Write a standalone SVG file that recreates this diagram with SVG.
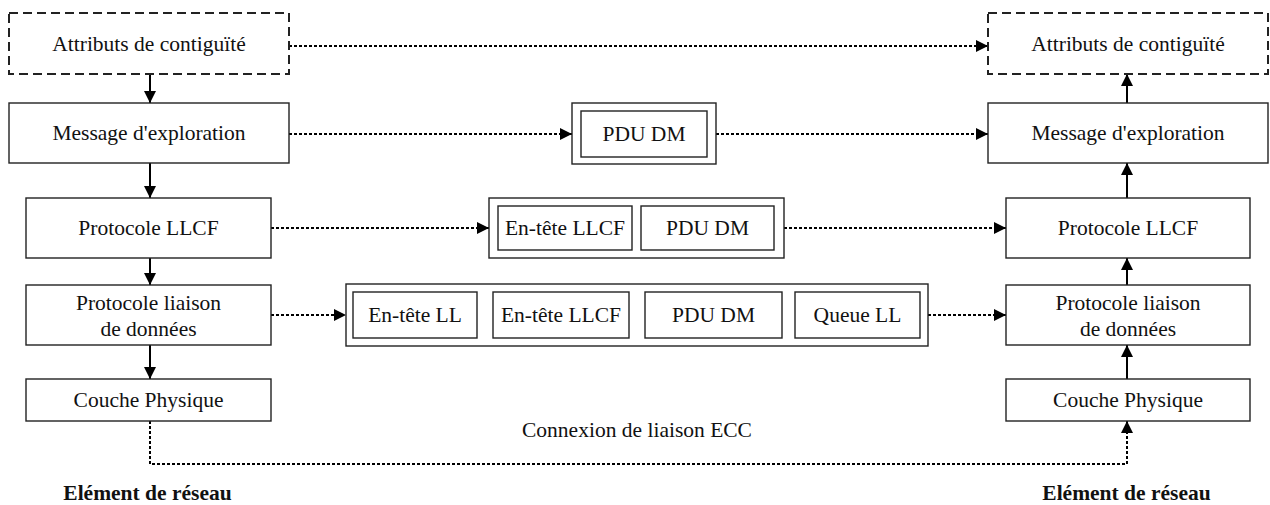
<svg xmlns="http://www.w3.org/2000/svg" width="1270" height="505" viewBox="0 0 1270 505">
<style>
.box{fill:#fff;stroke:#222;stroke-width:1.4}
.dash{fill:#fff;stroke:#222;stroke-width:2;stroke-dasharray:9 5}
.t{font-family:'Liberation Serif','DejaVu Serif',serif;font-size:21.5px;fill:#111;text-anchor:middle}
.b{font-weight:bold}
.solid{stroke:#000;stroke-width:2;fill:none}
.dot{stroke:#000;stroke-width:2;fill:none;stroke-dasharray:3 2}
</style>
<defs>
<marker id="ah" markerUnits="userSpaceOnUse" markerWidth="14" markerHeight="14" viewBox="0 0 14 14" refX="13" refY="7" orient="auto">
<path d="M1,1 L13,7 L1,13 Z" fill="#000"/>
</marker>
</defs>
<rect width="1270" height="505" fill="#fff"/>
<g id="connectors">
<line class="solid" x1="150" y1="74" x2="150" y2="103" marker-end="url(#ah)"/>
<line class="solid" x1="150" y1="163" x2="150" y2="198" marker-end="url(#ah)"/>
<line class="solid" x1="150" y1="258" x2="150" y2="285" marker-end="url(#ah)"/>
<line class="solid" x1="150" y1="345" x2="150" y2="379" marker-end="url(#ah)"/>
<line class="solid" x1="1127" y1="103" x2="1127" y2="74" marker-end="url(#ah)"/>
<line class="solid" x1="1127" y1="198" x2="1127" y2="163" marker-end="url(#ah)"/>
<line class="solid" x1="1127" y1="285" x2="1127" y2="258" marker-end="url(#ah)"/>
<line class="solid" x1="1127" y1="379" x2="1127" y2="345" marker-end="url(#ah)"/>
<line class="dot" x1="289" y1="46" x2="988" y2="46" marker-end="url(#ah)"/>
<line class="dot" x1="289" y1="134" x2="572" y2="134" marker-end="url(#ah)"/>
<line class="dot" x1="716" y1="134" x2="988" y2="134" marker-end="url(#ah)"/>
<line class="dot" x1="271" y1="228" x2="489" y2="228" marker-end="url(#ah)"/>
<line class="dot" x1="784" y1="228" x2="1006" y2="228" marker-end="url(#ah)"/>
<line class="dot" x1="271" y1="315" x2="346" y2="315" marker-end="url(#ah)"/>
<line class="dot" x1="928" y1="315" x2="1006" y2="315" marker-end="url(#ah)"/>
<polyline class="dot" points="150,421 150,464 1127,464 1127,421" marker-end="url(#ah)"/>
</g>
<g id="left-attributs"><rect class="dash" x="9" y="13" width="280" height="61"/><text class="t" x="149" y="51">Attributs de contiguïté</text></g>
<g id="left-message"><rect class="box" x="9" y="103" width="280" height="60"/><text class="t" x="149" y="140">Message d'exploration</text></g>
<g id="left-llcf"><rect class="box" x="26" y="198" width="245" height="60"/><text class="t" x="148.5" y="235">Protocole LLCF</text></g>
<g id="left-liaison"><rect class="box" x="26" y="285" width="245" height="60"/><text class="t" x="148.5" y="310">Protocole liaison</text><text class="t" x="148.5" y="336">de données</text></g>
<g id="left-physique"><rect class="box" x="26" y="379" width="245" height="42"/><text class="t" x="148.5" y="407">Couche Physique</text></g>
<g id="right-attributs"><rect class="dash" x="988" y="13" width="280" height="61"/><text class="t" x="1128" y="51">Attributs de contiguïté</text></g>
<g id="right-message"><rect class="box" x="988" y="103" width="280" height="60"/><text class="t" x="1128" y="140">Message d'exploration</text></g>
<g id="right-llcf"><rect class="box" x="1006" y="198" width="244" height="60"/><text class="t" x="1128" y="235">Protocole LLCF</text></g>
<g id="right-liaison"><rect class="box" x="1006" y="285" width="244" height="60"/><text class="t" x="1128" y="310">Protocole liaison</text><text class="t" x="1128" y="336">de données</text></g>
<g id="right-physique"><rect class="box" x="1006" y="379" width="244" height="42"/><text class="t" x="1128" y="407">Couche Physique</text></g>
<g id="pdu-dm"><rect class="box" x="572" y="103" width="144" height="61"/><rect class="box" x="581" y="111" width="126" height="46"/><text class="t" x="644" y="141">PDU DM</text></g>
<g id="llcf-frame"><rect class="box" x="489" y="198" width="295" height="60"/><rect class="box" x="498" y="206" width="134" height="44"/><text class="t" x="565" y="235">En-tête LLCF</text><rect class="box" x="641" y="206" width="133" height="44"/><text class="t" x="707.5" y="235">PDU DM</text></g>
<g id="ll-frame"><rect class="box" x="346" y="284" width="582" height="62"/><rect class="box" x="353" y="292" width="124" height="46"/><text class="t" x="415" y="322">En-tête LL</text><rect class="box" x="493" y="292" width="136" height="46"/><text class="t" x="561" y="322">En-tête LLCF</text><rect class="box" x="645" y="292" width="137" height="46"/><text class="t" x="713.5" y="322">PDU DM</text><rect class="box" x="795" y="292" width="125" height="46"/><text class="t" x="857.5" y="322">Queue LL</text></g>
<g id="labels"><text class="t" x="637" y="437">Connexion de liaison ECC</text><text class="t b" x="147.5" y="500">Elément de réseau</text><text class="t b" x="1126.5" y="500">Elément de réseau</text></g>
</svg>
